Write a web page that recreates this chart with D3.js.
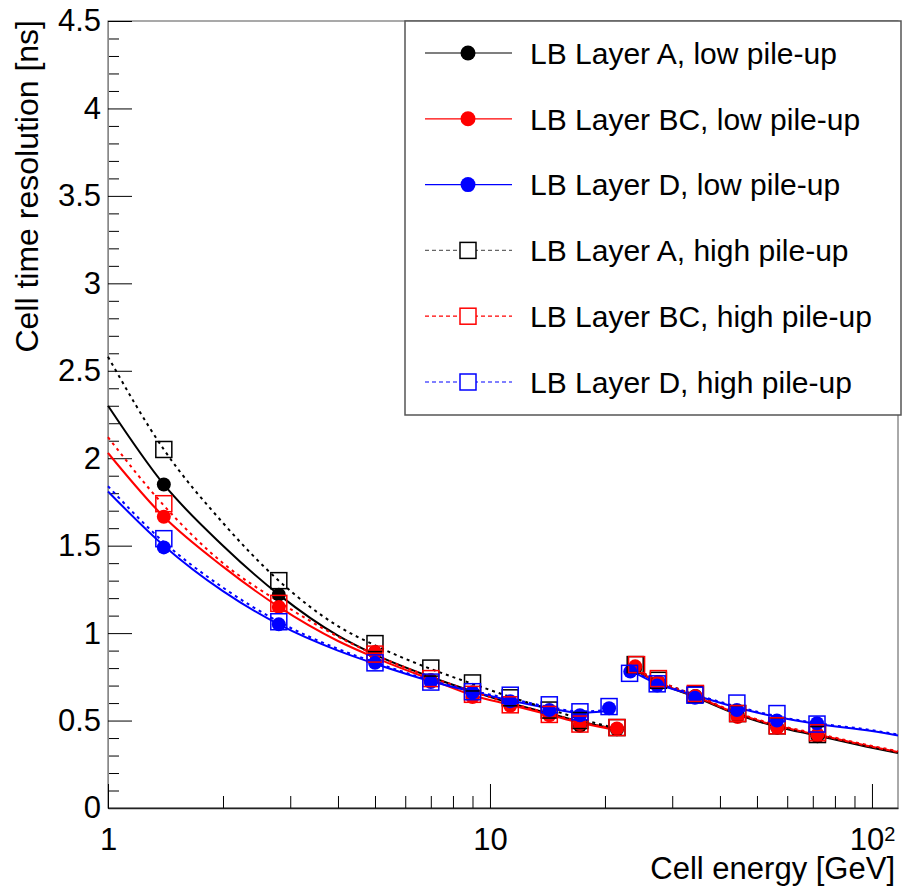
<!DOCTYPE html>
<html>
<head>
<meta charset="utf-8">
<script src="https://cdn.jsdelivr.net/npm/d3@7"></script>
<style>
  body { margin: 0; background: #fff; }
  text { font-family: "Liberation Sans", Arial, Helvetica, sans-serif; }
</style>
</head>
<body>
<div id="chart"></div>
<script>
// ---- data ----
var seriesNames = ["LB Layer A, low pile-up", "LB Layer BC, low pile-up", "LB Layer D, low pile-up",
                   "LB Layer A, high pile-up", "LB Layer BC, high pile-up", "LB Layer D, high pile-up"];
var seriesColors = ["#000000", "#ff0000", "#0000ff", "#000000", "#ff0000", "#0000ff"];

// measured points (energy in GeV, resolution in ns)
var lowA_E   = [1.4, 2.8, 5, 7, 9, 11.3, 14.3, 17.2, 21.5, 24, 27.6, 34.5, 44.5, 56.5, 72];
var lowA_y   = [1.85, 1.22, 0.89, 0.73, 0.66, 0.60, 0.54, 0.47, 0.45, 0.80, 0.72, 0.64, 0.53, 0.46, 0.41];
var lowBC_E  = [1.4, 2.8, 5, 7, 9, 11.3, 14.3, 17.2, 21.5, 24, 27.6, 34.5, 44.5, 56.5, 72];
var lowBC_y  = [1.665, 1.15, 0.89, 0.73, 0.635, 0.585, 0.53, 0.48, 0.455, 0.81, 0.72, 0.64, 0.52, 0.46, 0.42];
var lowD_E   = [1.4, 2.8, 5, 7, 9, 11.3, 14.3, 17.2, 20.5, 23.3, 27.4, 34.4, 44.3, 56.4, 71.8];
var lowD_y   = [1.49, 1.05, 0.83, 0.72, 0.66, 0.61, 0.56, 0.53, 0.57, 0.78, 0.70, 0.63, 0.56, 0.50, 0.485];
var highA_E  = [1.4, 2.8, 5, 7, 9, 11.3, 14.3, 17.2, 21.5, 24, 27.6, 34.5, 44.5, 56.5, 72];
var highA_y  = [2.05, 1.30, 0.94, 0.80, 0.715, 0.63, 0.56, 0.50, 0.46, 0.82, 0.73, 0.65, 0.54, 0.47, 0.42];
var highBC_E = [1.4, 2.8, 5, 7, 9, 11.3, 14.3, 17.2, 21.5, 24.2, 27.6, 34.5, 44.5, 56.5, 72];
var highBC_y = [1.74, 1.17, 0.88, 0.74, 0.65, 0.59, 0.535, 0.48, 0.46, 0.82, 0.74, 0.655, 0.54, 0.47, 0.43];
var highD_E  = [1.4, 2.8, 5, 7, 9, 11.3, 14.3, 17.2, 20.5, 23.2, 27.4, 34.4, 44.3, 56.4, 71.8];
var highD_y  = [1.54, 1.065, 0.83, 0.72, 0.665, 0.645, 0.59, 0.55, 0.58, 0.77, 0.71, 0.645, 0.60, 0.54, 0.48];

// fitted curves, read at a few energies (high-gain range and low-gain range)
var fitLowE   = [1, 1.4, 2, 2.8, 4, 5, 7, 9, 11.3, 14.3, 17.2, 21.5];
var fitLowED  = [1, 1.4, 2, 2.8, 4, 5, 7, 9, 11.3, 14.3, 17.2, 20.5];
var fitHighE  = [23.5, 27.4, 34.4, 44.3, 56.4, 71.8, 100, 117];
var fitHighED = [23.2, 27.4, 34.4, 44.3, 56.4, 71.8, 100, 117];

var fitLowA_lo   = [2.30, 1.85, 1.50, 1.22, 0.985, 0.877, 0.749, 0.667, 0.60, 0.54, 0.495, 0.45];
var fitLowA_hi   = [0.80, 0.72, 0.635, 0.535, 0.465, 0.415, 0.345, 0.315];
var fitLowBC_lo  = [2.03, 1.665, 1.38, 1.15, 0.955, 0.86, 0.735, 0.645, 0.59, 0.533, 0.487, 0.445];
var fitLowBC_hi  = [0.805, 0.72, 0.64, 0.54, 0.47, 0.42, 0.35, 0.32];
var fitLowD_lo   = [1.81, 1.50, 1.24, 1.05, 0.90, 0.825, 0.725, 0.665, 0.615, 0.57, 0.545, 0.555];
var fitLowD_hi   = [0.79, 0.71, 0.645, 0.575, 0.52, 0.48, 0.44, 0.415];
var fitHighA_lo  = [2.58, 2.05, 1.63, 1.30, 1.04, 0.93, 0.795, 0.71, 0.635, 0.565, 0.51, 0.455];
var fitHighA_hi  = [0.81, 0.73, 0.645, 0.54, 0.47, 0.42, 0.35, 0.32];
var fitHighBC_lo = [2.12, 1.73, 1.40, 1.18, 0.98, 0.876, 0.748, 0.666, 0.60, 0.54, 0.493, 0.45];
var fitHighBC_hi = [0.81, 0.73, 0.645, 0.545, 0.475, 0.425, 0.355, 0.325];
var fitHighD_lo  = [1.84, 1.52, 1.26, 1.065, 0.91, 0.833, 0.73, 0.67, 0.625, 0.578, 0.552, 0.56];
var fitHighD_hi  = [0.795, 0.715, 0.65, 0.58, 0.525, 0.485, 0.445, 0.42];

var yMajorTicks = [0, 0.5, 1, 1.5, 2, 2.5, 3, 3.5, 4, 4.5];
var xMajorTicks = [1, 10, 100];
var xMinorTicks = [2, 3, 4, 5, 6, 7, 8, 9, 20, 30, 40, 50, 60, 70, 80, 90];

// ---- layout ----
var W = 903, H = 889;
var pLeft = 108, pRight = 898, pTop = 21, pBottom = 808;

var svg = d3.select("#chart").append("svg")
    .attr("width", W)
    .attr("height", H);

var x = d3.scaleLog().domain([1, 117]).range([pLeft, pRight]);
var y = d3.scaleLinear().domain([0, 4.5]).range([pBottom, pTop]);

// frame
svg.append("rect")
    .attr("x", pLeft).attr("y", pTop)
    .attr("width", pRight - pLeft).attr("height", pBottom - pTop)
    .attr("fill", "none").attr("stroke", "#555").attr("stroke-width", 1);

// y axis: minor then major
var yMinor = d3.range(0, 46).map(function(i) { return i / 10; })
    .filter(function(v) { return Math.round(v * 10) % 5 !== 0; });

svg.append("g")
    .attr("transform", "translate(" + pLeft + ",0)")
    .call(d3.axisLeft(y).tickValues(yMinor).tickSizeInner(-11).tickSizeOuter(0).tickFormat(""))
    .call(function(g) { g.select(".domain").remove(); });

var yAxis = svg.append("g")
    .attr("transform", "translate(" + pLeft + ",0)")
    .call(d3.axisLeft(y).tickValues(yMajorTicks).tickSizeInner(-24).tickSizeOuter(0)
          .tickPadding(7).tickFormat(d3.format("")));
yAxis.select(".domain").attr("stroke", "#888");
yAxis.selectAll("text").attr("font-size", 31).attr("fill", "#000");

// x axis
svg.append("g")
    .attr("transform", "translate(0," + pBottom + ")")
    .call(d3.axisBottom(x).tickValues(xMinorTicks).tickSizeInner(-12).tickSizeOuter(0).tickFormat(""))
    .call(function(g) { g.select(".domain").remove(); });

var xAxis = svg.append("g")
    .attr("transform", "translate(0," + pBottom + ")")
    .call(d3.axisBottom(x).tickValues(xMajorTicks).tickSizeInner(-24).tickSizeOuter(0)
          .tickPadding(20).tickFormat(function(d) { return d === 100 ? "" : d; }));
xAxis.select(".domain").attr("stroke", "#222").attr("stroke-width", 1.5);
xAxis.selectAll("text").attr("font-size", 31).attr("fill", "#000");
// 10^2 label
xAxis.selectAll(".tick").filter(function(d) { return d === 100; }).select("text")
    .call(function(t) {
      t.append("tspan").text("10");
      t.append("tspan").attr("dy", "-0.45em").attr("font-size", 20).text("2");
    });

// axis titles
svg.append("text")
    .attr("transform", "translate(38,20) rotate(-90)")
    .attr("text-anchor", "end")
    .attr("font-size", 32)
    .text("Cell time resolution [ns]");

svg.append("text")
    .attr("x", 895).attr("y", 879)
    .attr("text-anchor", "end")
    .attr("font-size", 31)
    .text("Cell energy [GeV]");

// ---- curves ----
var line = d3.line()
    .x(function(d) { return x(d[0]); })
    .y(function(d) { return y(d[1]); })
    .curve(d3.curveMonotoneX);

function zip(a, b) { return a.map(function(v, i) { return [v, b[i]]; }); }

var fits = [
  {c: 0, dash: null, lo: zip(fitLowE, fitLowA_lo),   hi: zip(fitHighE, fitLowA_hi)},
  {c: 1, dash: null, lo: zip(fitLowE, fitLowBC_lo),  hi: zip(fitHighE, fitLowBC_hi)},
  {c: 2, dash: null, lo: zip(fitLowED, fitLowD_lo),  hi: zip(fitHighED, fitLowD_hi)},
  {c: 3, dash: "3,4", lo: zip(fitLowE, fitHighA_lo),  hi: zip(fitHighE, fitHighA_hi)},
  {c: 4, dash: "3,4", lo: zip(fitLowE, fitHighBC_lo), hi: zip(fitHighE, fitHighBC_hi)},
  {c: 5, dash: "3,4", lo: zip(fitLowED, fitHighD_lo), hi: zip(fitHighED, fitHighD_hi)}
];

fits.forEach(function(f) {
  [f.lo, f.hi].forEach(function(seg) {
    svg.append("path")
        .attr("d", line(seg))
        .attr("fill", "none")
        .attr("stroke", seriesColors[f.c])
        .attr("stroke-width", 2)
        .attr("stroke-dasharray", f.dash);
  });
});

// ---- markers ----
var lowSeries = [zip(lowA_E, lowA_y), zip(lowBC_E, lowBC_y), zip(lowD_E, lowD_y)];
var highSeries = [zip(highA_E, highA_y), zip(highBC_E, highBC_y), zip(highD_E, highD_y)];

lowSeries.forEach(function(pts, i) {
  svg.append("g").selectAll("circle")
      .data(pts)
    .enter().append("circle")
      .attr("cx", function(d) { return x(d[0]); })
      .attr("cy", function(d) { return y(d[1]); })
      .attr("r", 7)
      .attr("fill", seriesColors[i]);
});

highSeries.forEach(function(pts, i) {
  svg.append("g").selectAll("rect")
      .data(pts)
    .enter().append("rect")
      .attr("x", function(d) { return x(d[0]) - 8; })
      .attr("y", function(d) { return y(d[1]) - 8; })
      .attr("width", 16).attr("height", 16)
      .attr("fill", "none")
      .attr("stroke", seriesColors[i + 3])
      .attr("stroke-width", 1.5);
});

// ---- legend ----
var lg = svg.append("g");
lg.append("rect")
    .attr("x", 405).attr("y", 21)
    .attr("width", 496).attr("height", 394)
    .attr("fill", "#fff").attr("stroke", "#555").attr("stroke-width", 1.5);

var rowY = d3.scaleLinear().domain([0, 5]).range([53, 382]);

seriesNames.forEach(function(name, i) {
  var yy = rowY(i);
  var high = i >= 3;
  lg.append("line")
      .attr("x1", 425).attr("x2", 512)
      .attr("y1", yy).attr("y2", yy)
      .attr("stroke", i === 3 ? "#666" : seriesColors[i])
      .attr("stroke-width", 1.2)
      .attr("stroke-dasharray", high ? "4,3" : null);
  if (high) {
    lg.append("rect")
        .attr("x", 460).attr("y", yy - 8)
        .attr("width", 16).attr("height", 16)
        .attr("fill", "#fff")
        .attr("stroke", seriesColors[i]).attr("stroke-width", 1.5);
  } else {
    lg.append("circle")
        .attr("cx", 468).attr("cy", yy).attr("r", 7.5)
        .attr("fill", seriesColors[i]);
  }
  lg.append("text")
      .attr("x", 530).attr("y", yy)
      .attr("dy", "0.36em")
      .attr("font-size", 30)
      .text(name);
});
</script>
</body>
</html>
